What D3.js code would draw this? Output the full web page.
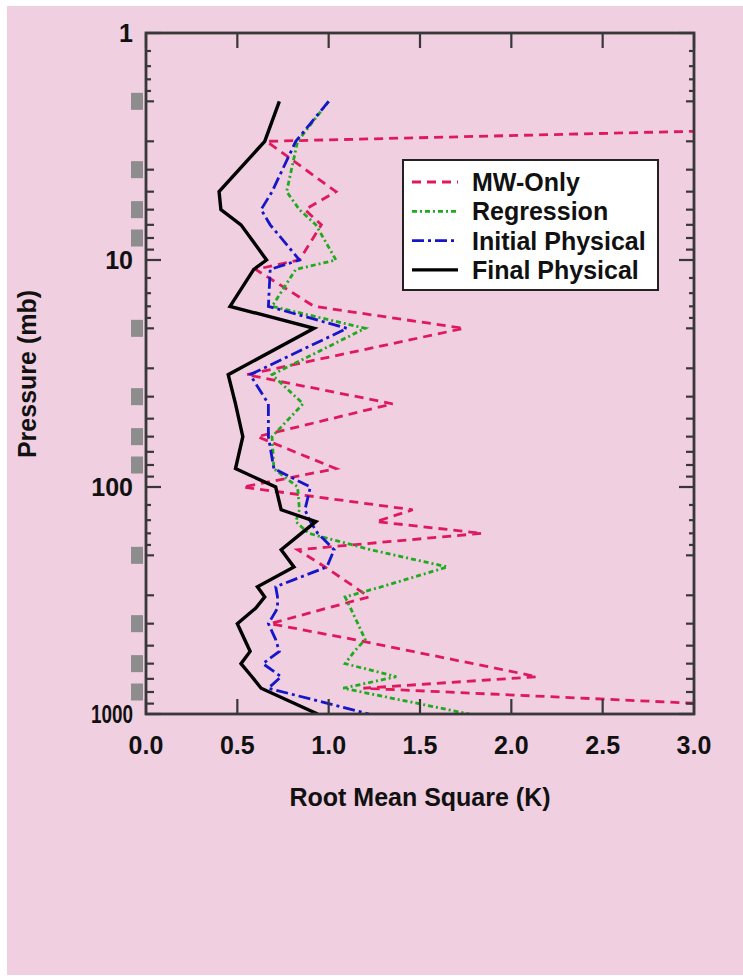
<!DOCTYPE html>
<html>
<head>
<meta charset="utf-8">
<script src="https://cdn.jsdelivr.net/npm/d3@7"></script>
<style>
  html, body { margin: 0; padding: 0; background: #ffffff; }
  #chart { width: 743px; height: 980px; }
</style>
</head>
<body>
<div id="chart"></div>
<script>
const LEVELS = [2, 3, 5, 6, 7, 10, 11, 16, 20, 32, 43, 60, 83, 100, 126, 142, 160, 189, 225, 275, 305, 342, 400, 470, 530, 600, 685, 770, 1000];

const MW_ONLY = [10.0, 0.66, 1.04, 0.87, 0.96, 0.84, 0.6, 0.92, 1.74, 0.55, 1.35, 0.61, 1.04, 0.53, 1.46, 1.26, 1.84, 0.83, 0.98, 1.14, 1.22, 0.99, 0.68, 1.14, 1.46, 1.79, 2.14, 1.19, 4.3];
const REGRESSION = [1.0, 0.83, 0.77, 0.84, 0.93, 1.04, 0.82, 0.69, 1.2, 0.69, 0.86, 0.69, 0.7, 0.83, 0.84, 0.82, 0.89, 1.23, 1.65, 1.29, 1.09, 1.12, 1.16, 1.2, 1.14, 1.09, 1.37, 1.08, 1.77];
const INITIAL_PHYSICAL = [1.0, 0.82, 0.69, 0.63, 0.68, 0.84, 0.68, 0.67, 1.1, 0.57, 0.67, 0.67, 0.7, 0.9, 0.87, 0.9, 0.94, 1.03, 0.99, 0.71, 0.72, 0.72, 0.67, 0.71, 0.73, 0.64, 0.74, 0.67, 1.22];
const FINAL_PHYSICAL = [0.73, 0.65, 0.4, 0.41, 0.52, 0.66, 0.59, 0.46, 0.92, 0.45, 0.49, 0.53, 0.49, 0.71, 0.74, 0.93, 0.85, 0.74, 0.81, 0.61, 0.65, 0.6, 0.5, 0.54, 0.57, 0.52, 0.58, 0.63, 0.94];

const X_TICKS = [0, 0.5, 1.0, 1.5, 2.0, 2.5, 3.0];
const Y_MAJOR = [1, 10, 100, 1000];
const MARKER_LEVELS = [2, 4, 6, 8, 20, 40, 60, 80, 200, 400, 600, 800];

const SERIES = [
  { label: "MW-Only", values: MW_ONLY, color: "#e0195f", dash: "9,6", width: 2.8 },
  { label: "Regression", values: REGRESSION, color: "#1faa1f", dash: "5,3,2,3", width: 2.8 },
  { label: "Initial Physical", values: INITIAL_PHYSICAL, color: "#1616c8", dash: "12,4,3,4", width: 2.8 },
  { label: "Final Physical", values: FINAL_PHYSICAL, color: "#000000", dash: null, width: 3.4 },
];

const width = 743;
const height = 980;
const plot = { left: 146, right: 694, top: 33, bottom: 714 };
const FONT = "'Liberation Sans', Arial, Helvetica, sans-serif";
const TEXT_SIZE = 25;

const svg = d3
  .select("#chart")
  .append("svg")
  .attr("width", width)
  .attr("height", height)
  .style("font-family", FONT);

svg.append("rect").attr("width", width).attr("height", height).attr("fill", "#ffffff");
svg
  .append("rect")
  .attr("x", 7)
  .attr("y", 6)
  .attr("width", width - 7)
  .attr("height", 969)
  .attr("fill", "#efcfe0");

const x = d3.scaleLinear().domain([0, 3]).range([plot.left, plot.right]);
const y = d3.scaleLog().domain([1, 1000]).range([plot.top, plot.bottom]);

// minor ticks: 1.2..1.8 per decade are short, 2..9 a bit longer
const minorShort = [];
const minorLong = [];
[1, 10, 100].forEach((base) => {
  [1.2, 1.4, 1.6, 1.8].forEach((m) => minorShort.push(base * m));
  d3.range(2, 10).forEach((m) => minorLong.push(base * m));
});

// grey level markers left of the axis
svg
  .append("g")
  .selectAll("rect")
  .data(MARKER_LEVELS)
  .join("rect")
  .attr("x", plot.left - 15)
  .attr("y", (d) => y(d) - 8.5)
  .attr("width", 12)
  .attr("height", 17)
  .attr("fill", "#8d8d8d");

svg
  .append("clipPath")
  .attr("id", "plot-clip")
  .append("rect")
  .attr("x", plot.left)
  .attr("y", plot.top)
  .attr("width", plot.right - plot.left)
  .attr("height", plot.bottom - plot.top);

const line = d3
  .line()
  .x((d) => x(d.value))
  .y((d) => y(d.level));

const lines = svg.append("g").attr("clip-path", "url(#plot-clip)");
SERIES.forEach((series) => {
  lines
    .append("path")
    .datum(LEVELS.map((level, i) => ({ level, value: series.values[i] })))
    .attr("fill", "none")
    .attr("stroke", series.color)
    .attr("stroke-width", series.width)
    .attr("stroke-dasharray", series.dash)
    .attr("stroke-linejoin", "miter")
    .attr("d", line);
});

// frame with inward ticks on all four sides
const axisColor = "#383838";
const ticks = svg.append("g").attr("stroke", axisColor).attr("stroke-width", 2.2);

function yTicks(values, len) {
  values.forEach((v) => {
    ticks.append("line").attr("x1", plot.left).attr("x2", plot.left + len).attr("y1", y(v)).attr("y2", y(v));
    ticks.append("line").attr("x1", plot.right).attr("x2", plot.right - len).attr("y1", y(v)).attr("y2", y(v));
  });
}
yTicks(minorShort, 5);
yTicks(minorLong, 8);
yTicks(Y_MAJOR, 15);

X_TICKS.forEach((v) => {
  ticks.append("line").attr("x1", x(v)).attr("x2", x(v)).attr("y1", plot.bottom).attr("y2", plot.bottom - 15);
  ticks.append("line").attr("x1", x(v)).attr("x2", x(v)).attr("y1", plot.top).attr("y2", plot.top + 15);
});

svg
  .append("rect")
  .attr("x", plot.left)
  .attr("y", plot.top)
  .attr("width", plot.right - plot.left)
  .attr("height", plot.bottom - plot.top)
  .attr("fill", "none")
  .attr("stroke", axisColor)
  .attr("stroke-width", 2.8);

// tick labels ("1000" is squeezed to the width of "100", as in the original)
svg
  .append("g")
  .selectAll("text")
  .data(Y_MAJOR)
  .join("text")
  .attr("x", plot.left - 13)
  .attr("y", (d) => y(d) + 9)
  .attr("text-anchor", "end")
  .attr("font-size", TEXT_SIZE)
  .attr("font-weight", 700)
  .attr("fill", "#111")
  .attr("textLength", (d) => (String(d).length > 3 ? 42 : null))
  .attr("lengthAdjust", "spacingAndGlyphs")
  .text((d) => d);

svg
  .append("g")
  .selectAll("text")
  .data(X_TICKS)
  .join("text")
  .attr("x", (d) => x(d))
  .attr("y", plot.bottom + 40)
  .attr("text-anchor", "middle")
  .attr("font-size", TEXT_SIZE)
  .attr("font-weight", 700)
  .attr("fill", "#111")
  .text((d) => d3.format(".1f")(d));

svg
  .append("text")
  .attr("x", 420)
  .attr("y", 806)
  .attr("text-anchor", "middle")
  .attr("font-size", TEXT_SIZE)
  .attr("font-weight", 700)
  .attr("fill", "#111")
  .text("Root Mean Square (K)");

svg
  .append("text")
  .attr("transform", "translate(36,374) rotate(-90)")
  .attr("text-anchor", "middle")
  .attr("font-size", TEXT_SIZE)
  .attr("font-weight", 700)
  .attr("fill", "#111")
  .text("Pressure (mb)");

// legend
const legend = svg.append("g").attr("transform", "translate(403,160)");
legend
  .append("rect")
  .attr("width", 255)
  .attr("height", 130)
  .attr("fill", "#ffffff")
  .attr("stroke", "#222")
  .attr("stroke-width", 2);

SERIES.forEach((series, index) => {
  const row = legend.append("g").attr("transform", `translate(0, ${22 + index * 29.3})`);
  row
    .append("line")
    .attr("x1", 9)
    .attr("x2", 55)
    .attr("stroke", series.color)
    .attr("stroke-width", series.width)
    .attr("stroke-dasharray", series.dash);
  row
    .append("text")
    .attr("x", 69)
    .attr("y", 9)
    .attr("font-size", TEXT_SIZE)
    .attr("font-weight", 700)
    .attr("fill", "#111")
    .text(series.label);
});
</script>
</body>
</html>
